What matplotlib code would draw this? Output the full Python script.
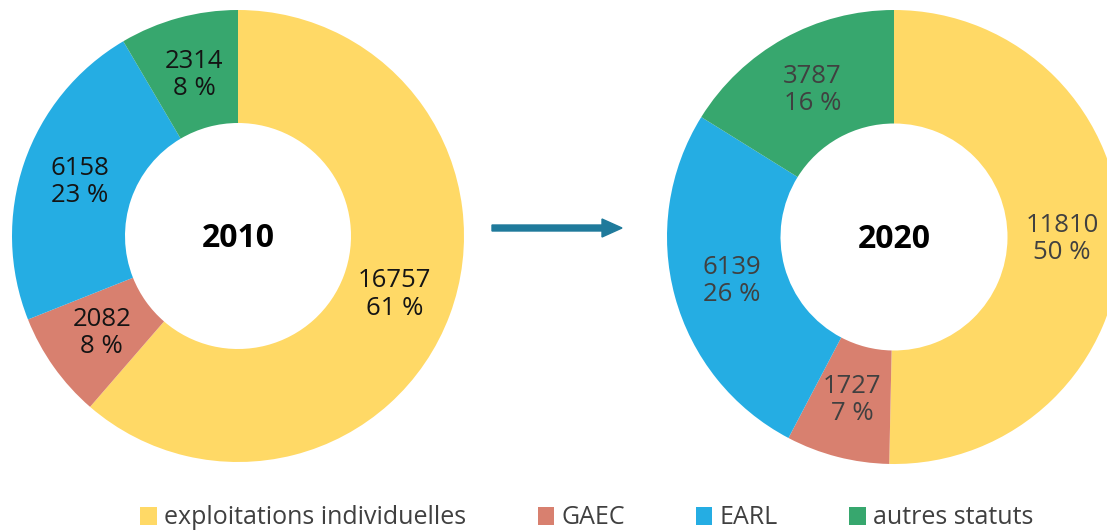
import matplotlib
matplotlib.use("Agg")
import matplotlib.pyplot as plt
from matplotlib.patches import Patch
import numpy as np

plt.rcParams['font.family'] = ['Open Sans', 'DejaVu Sans']

# data
categories = ["exploitations individuelles", "GAEC", "EARL", "autres statuts"]
values_2010 = [16757, 2082, 6158, 2314]
values_2020 = [11810, 1727, 6139, 3787]
years = ["2010", "2020"]
colors = ["#FFD966", "#D8806F", "#25ADE3", "#37A76E"]

W, H = 1107, 531
fig = plt.figure(figsize=(W / 100, H / 100), dpi=100)


def donut(cx, cy, r, values, year, label_color):
    # axes placed so that the pie circle fills it exactly (pixel coords)
    ax = fig.add_axes([(cx - r) / W, (H - cy - r) / H, 2 * r / W, 2 * r / H])
    wedges, _ = ax.pie(values, colors=colors, startangle=90, counterclock=False,
                       radius=1, wedgeprops=dict(width=0.5, linewidth=0))
    total = sum(values)
    for w, v in zip(wedges, values):
        mid = np.deg2rad((w.theta1 + w.theta2) / 2)
        ax.text(0.74 * np.cos(mid), 0.74 * np.sin(mid),
                f"{v}\n{round(100 * v / total)} %",
                ha="center", va="center", fontsize=18.5, color=label_color,
                linespacing=1.12)
    ax.text(0, -0.01, year, ha="center", va="center", fontsize=23,
            fontweight="bold", color="black")
    ax.set_xlim(-1, 1)
    ax.set_ylim(-1, 1)
    ax.set_aspect("equal")
    ax.axis("off")
    return ax


donut(238, 236, 226, values_2010, years[0], "#141414")
donut(894, 237, 227, values_2020, years[1], "#404040")

# arrow between the two donuts
fig.patches.append(matplotlib.patches.FancyArrow(
    492 / W, 1 - 228 / H, 110 / W, 0, width=6 / H, head_width=18 / H,
    head_length=20 / W, length_includes_head=False, color="#1F7A9B",
    transform=fig.transFigure, figure=fig))

handles = [Patch(facecolor=c, edgecolor="none") for c in colors]
fig.legend(handles, categories, loc="center", bbox_to_anchor=(587 / W, 1 - 518 / H),
           ncol=4, frameon=False, fontsize=18, handlelength=0.65, handleheight=0.7,
           handletextpad=0.3, columnspacing=2.85, labelcolor="#404040",
           borderaxespad=0, borderpad=0)

fig.savefig("out.png", dpi=100)
